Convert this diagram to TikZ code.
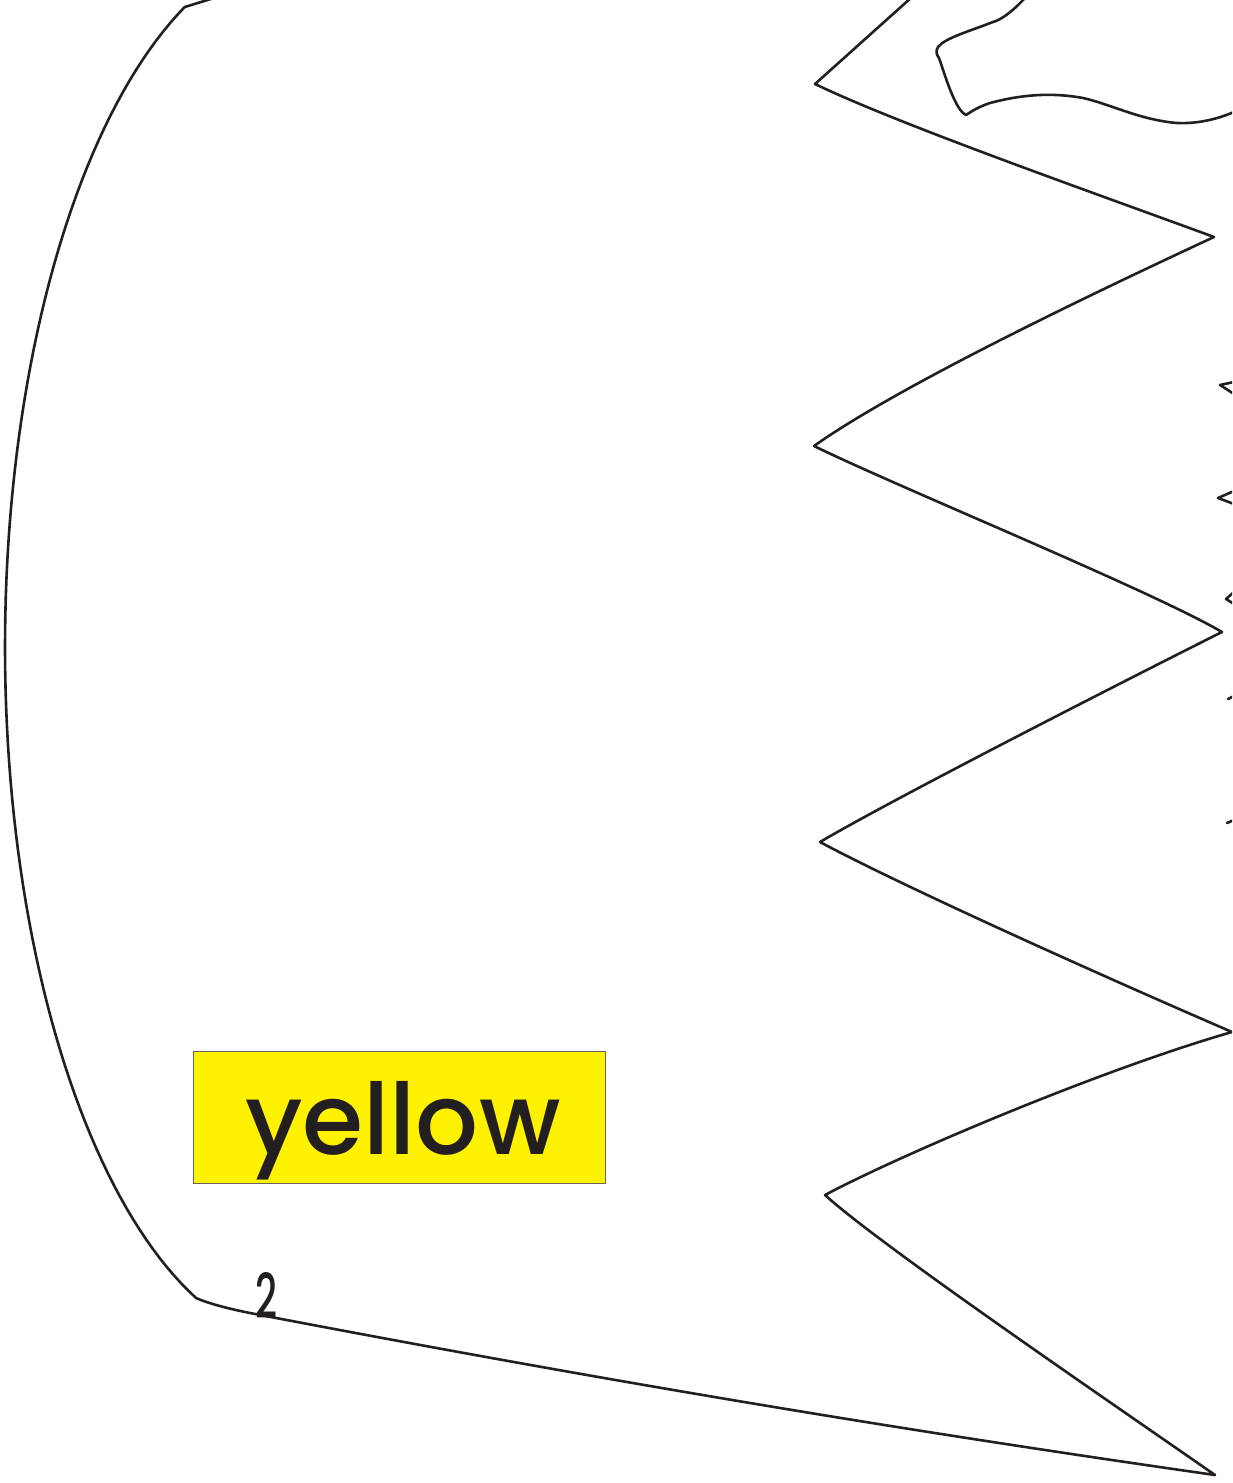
\documentclass[tikz,border=0pt]{standalone}
\usepackage{graphicx}
\usepackage{fontspec}
\IfFontExistsTF{Poppins Medium}{\newfontfamily\geofont{Poppins Medium}}{\newfontfamily\geofont{Poppins}[FakeBold=1.5]}
\definecolor{ink}{HTML}{231F20}
\definecolor{yelfill}{HTML}{FFF200}
\begin{document}
\begin{tikzpicture}[x=0.5pt,y=-0.5pt,
  outline/.style={draw=ink, line width=1.3pt, line join=round, line cap=round},
  labeltext/.style={anchor=base west, inner sep=0pt, text=ink}]
\useasboundingbox (0,0) rectangle (1232,1483);
\clip (0,0) rectangle (1232,1483);
% big outline
\draw[outline] (912,-3) -- (815,84)
 .. controls (900,125) and (1100,195) .. (1214,237)
 .. controls (1100,290) and (900,385) .. (814,446)
 .. controls (900,488) and (1150,590) .. (1222,632)
 .. controls (1150,668) and (900,795) .. (820,842)
 .. controls (900,885) and (1100,975) .. (1232,1032)
 .. controls (1100,1070) and (900,1155) .. (825,1195)
 .. controls (880,1245) and (1100,1395) .. (1215,1475)
 .. controls (900,1430) and (600,1380) .. (250,1313)
 .. controls (230,1309) and (210,1304) .. (196,1298)
 -- plot[domain=111.6:246.1, samples=90] ({307+302*cos(\x)},{647+700*sin(\x)})
 -- (214,-2);
% inner top shape
\draw[outline] (1025,-2) .. controls (1010,14) and (1000,20) .. (993,22)
 .. controls (970,31) and (945,38) .. (938,47)
 .. controls (935,52) and (937,55) .. (939,58)
 .. controls (945,75) and (955,110) .. (966,115)
 .. controls (968,114) and (975,108) .. (990,103)
 .. controls (1020,95) and (1050,92) .. (1083,98)
 .. controls (1110,104) and (1140,120) .. (1177,123)
 .. controls (1200,124) and (1220,118) .. (1234,112);
% marks at the right edge
\draw[outline] (1234,382) -- (1220,385) -- (1234,394);
\draw[outline] (1234,491) -- (1218,498) -- (1234,504);
\draw[outline] (1234,592) -- (1226,599) -- (1234,604);
\draw[outline] (1228,699) -- (1234,696);
\draw[outline] (1227,823) -- (1234,820);
% yellow label
\node[draw=ink!70, line width=0.5pt, fill=yelfill, minimum width=206pt, minimum height=66pt, inner sep=0pt] (colorbox) at (399,1117) {};
\node[labeltext] (colorword) at (245,1154) {\resizebox{157.5pt}{!}{\geofont yellow}};
\node[labeltext] (number) at (255,1318) {\resizebox{11pt}{23pt}{\geofont 2}};
\end{tikzpicture}
\end{document}
